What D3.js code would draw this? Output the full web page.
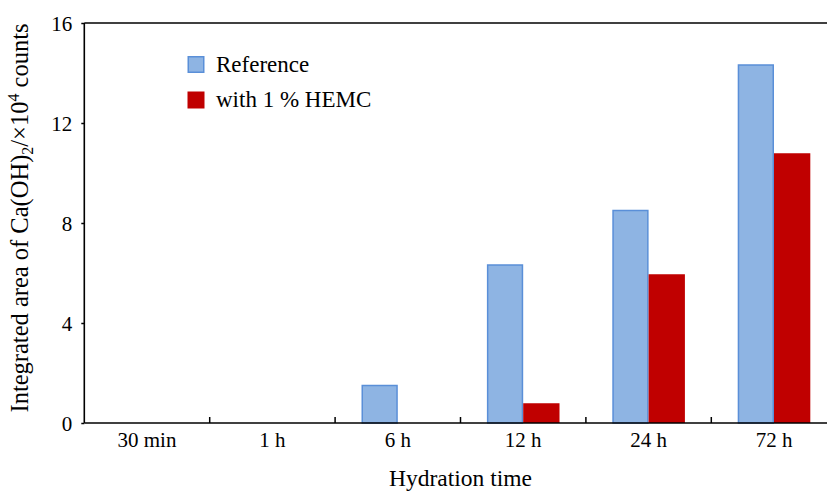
<!DOCTYPE html>
<html>
<head>
<meta charset="utf-8">
<script src="https://cdn.jsdelivr.net/npm/d3@7/dist/d3.min.js"></script>
<style>
  html, body { margin: 0; padding: 0; background: #fff; }
  svg { display: block; }
  text { font-family: "Liberation Serif", "Times New Roman", serif; fill: #000; }
</style>
</head>
<body>
<svg id="chart" width="827" height="493"></svg>
<script>
// Hydration times on the x axis
const categories = ["30 min", "1 h", "6 h", "12 h", "24 h", "72 h"];
// Series names as shown in the legend
const seriesNames = ["Reference", "with 1 % HEMC"];
// Integrated Ca(OH)2 peak area, ×10^4 counts
const referenceValues = [0, 0, 1.53, 6.35, 8.53, 14.35];
const hemcValues = [0, 0, 0, 0.79, 5.95, 10.79];
// Y axis ticks
const yTicks = [0, 4, 8, 12, 16];

const seriesValues = [referenceValues, hemcValues];
const fills = ["#8EB4E3", "#C00000"];
const strokes = ["#5A8FD8", "#C00000"];

const svg = d3.select("#chart");

const plotLeft = 84.3, plotBottom = 423, plotTop = 23;
const step = 125.4;

const x0 = d3.scaleBand()
  .domain(categories)
  .range([plotLeft, plotLeft + step * categories.length])
  .padding(0);

const x1 = d3.scaleBand()
  .domain(seriesNames)
  .range([0, x0.bandwidth()])
  .paddingInner(0)
  .paddingOuter(0.727);

const y = d3.scaleLinear().domain([0, 16]).range([plotBottom, plotTop]);

// Bars
const groups = svg.append("g")
  .selectAll("g")
  .data(categories)
  .join("g")
  .attr("transform", d => `translate(${x0(d)},0)`);

groups.selectAll("rect")
  .data((c, i) => seriesNames.map((s, k) => ({ s, k, v: seriesValues[k][i] })).filter(d => d.v > 0))
  .join("rect")
  .attr("x", d => x1(d.s) + (d.k === 0 ? 0.75 : 0))
  .attr("y", d => y(d.v) + (d.k === 0 ? 0.75 : 0))
  .attr("width", d => x1.bandwidth() - (d.k === 0 ? 1.5 : 0))
  .attr("height", d => y(0) - y(d.v) - (d.k === 0 ? 0.75 : 0))
  .attr("fill", d => fills[d.k])
  .attr("stroke", d => d.k === 0 ? strokes[0] : "none")
  .attr("stroke-width", 1.5);

// Y axis
const yAxis = svg.append("g")
  .attr("transform", `translate(${plotLeft},0)`)
  .call(d3.axisLeft(y).tickValues(yTicks).tickSize(3).tickPadding(9).tickFormat(d3.format("d")));
yAxis.select(".domain").remove();
yAxis.selectAll(".tick line").attr("stroke", "#000").attr("stroke-width", 1.5);
yAxis.selectAll(".tick text")
  .attr("font-size", 21)
  .attr("dy", "0.34em");

// Frame lines: left, bottom, top
svg.append("line").attr("x1", plotLeft).attr("x2", plotLeft).attr("y1", plotTop).attr("y2", plotBottom)
  .attr("stroke", "#000").attr("stroke-width", 1.6);
svg.append("line").attr("x1", plotLeft).attr("x2", x0.range()[1]).attr("y1", plotBottom).attr("y2", plotBottom)
  .attr("stroke", "#000").attr("stroke-width", 1.6);
svg.append("line").attr("x1", plotLeft).attr("x2", x0.range()[1]).attr("y1", plotTop).attr("y2", plotTop)
  .attr("stroke", "#000").attr("stroke-width", 1.6);

// X axis: inward ticks at category boundaries
svg.append("g")
  .selectAll("line")
  .data(categories.slice(1))
  .join("line")
  .attr("x1", d => x0(d)).attr("x2", d => x0(d))
  .attr("y1", plotBottom).attr("y2", plotBottom - 6)
  .attr("stroke", "#000").attr("stroke-width", 1.5);

svg.append("g")
  .selectAll("text")
  .data(categories)
  .join("text")
  .attr("x", d => x0(d) + x0.bandwidth() / 2)
  .attr("y", 447)
  .attr("text-anchor", "middle")
  .attr("font-size", 21)
  .text(d => d);

// Axis titles
svg.append("text")
  .attr("x", plotLeft + 3 * step)
  .attr("y", 486)
  .attr("text-anchor", "middle")
  .attr("font-size", 23.5)
  .text("Hydration time");

const yTitle = svg.append("text")
  .attr("transform", `translate(28,218) rotate(-90)`)
  .attr("text-anchor", "middle")
  .attr("font-size", 24.5);
yTitle.append("tspan").text("Integrated area of Ca(OH)");
yTitle.append("tspan").attr("font-size", 16).attr("dy", 5).text("2");
yTitle.append("tspan").attr("dy", -5).text("/×10");
yTitle.append("tspan").attr("font-size", 16).attr("dy", -9).text("4");
yTitle.append("tspan").attr("dy", 9).text(" counts");

// Legend
const legend = svg.append("g")
  .selectAll("g")
  .data(seriesNames)
  .join("g")
  .attr("transform", (d, i) => `translate(187.5,${56 + i * 35.5})`);
legend.append("rect")
  .attr("x", 0.75).attr("y", 0.75)
  .attr("width", 15.5).attr("height", 15.5)
  .attr("fill", (d, i) => fills[i])
  .attr("stroke", (d, i) => strokes[i])
  .attr("stroke-width", 1.5);
legend.append("text")
  .attr("x", 28.5)
  .attr("y", 15.5)
  .attr("font-size", 23)
  .text(d => d);
</script>
</body>
</html>
